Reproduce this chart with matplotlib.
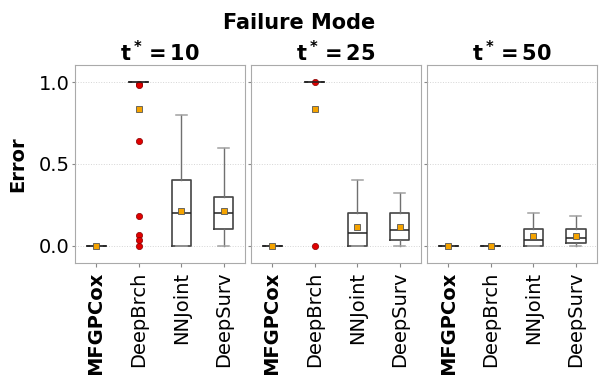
import matplotlib
matplotlib.use("Agg")
import matplotlib.pyplot as plt

methods = ["MFGPCox", "DeepBrch", "NNJoint", "DeepSurv"]
panel_titles = [r"$\mathbf{t^*=10}$", r"$\mathbf{t^*=25}$", r"$\mathbf{t^*=50}$"]

# per panel, per method: whislo, q1, med, q3, whishi, mean
t10_whislo = [0.0, 1.0, 0.0, 0.0]
t10_q1 = [0.0, 1.0, 0.0, 0.10]
t10_med = [0.0, 1.0, 0.20, 0.20]
t10_q3 = [0.0, 1.0, 0.40, 0.30]
t10_whishi = [0.0, 1.0, 0.80, 0.60]
t10_mean = [0.0, 0.835, 0.21, 0.21]
t10_fliers = [[], [0.99, 0.98, 0.64, 0.18, 0.065, 0.035, 0.0], [], []]

t25_whislo = [0.0, 1.0, 0.0, 0.0]
t25_q1 = [0.0, 1.0, 0.0, 0.037]
t25_med = [0.0, 1.0, 0.077, 0.096]
t25_q3 = [0.0, 1.0, 0.20, 0.20]
t25_whishi = [0.0, 1.0, 0.40, 0.32]
t25_mean = [0.0, 0.835, 0.114, 0.114]
t25_fliers = [[], [1.0, 0.0], [], []]

t50_whislo = [0.0, 0.0, 0.0, 0.0]
t50_q1 = [0.0, 0.0, 0.0, 0.016]
t50_med = [0.0, 0.0, 0.037, 0.047]
t50_q3 = [0.0, 0.0, 0.10, 0.10]
t50_whishi = [0.0, 0.0, 0.20, 0.18]
t50_mean = [0.0, 0.0, 0.057, 0.057]
t50_fliers = [[], [], [], []]

panels = [
    (t10_whislo, t10_q1, t10_med, t10_q3, t10_whishi, t10_mean, t10_fliers),
    (t25_whislo, t25_q1, t25_med, t25_q3, t25_whishi, t25_mean, t25_fliers),
    (t50_whislo, t50_q1, t50_med, t50_q3, t50_whishi, t50_mean, t50_fliers),
]

fig, axes = plt.subplots(1, 3, figsize=(5.99, 3.75), dpi=100, sharey=True)
fig.subplots_adjust(left=0.125, right=0.997, top=0.827, bottom=0.299, wspace=0.035)

for ax, title, (wl, q1, med, q3, wh, mn, fl) in zip(axes, panel_titles, panels):
    stats = []
    for i, m in enumerate(methods):
        stats.append(dict(label=m, whislo=wl[i], q1=q1[i], med=med[i], q3=q3[i],
                          whishi=wh[i], mean=mn[i], fliers=fl[i]))
    ax.bxp(stats, positions=range(1, 5), widths=0.45, showmeans=True,
           showfliers=True, patch_artist=False,
           boxprops=dict(color="#444444", linewidth=1.2),
           medianprops=dict(color="#222222", linewidth=1.1),
           whiskerprops=dict(color="#707070", linewidth=1.0),
           capprops=dict(color="#a0a0a0", linewidth=1.1),
           capwidths=0.26,
           meanprops=dict(marker="s", markerfacecolor="#f5a300",
                          markeredgecolor="#555555", markersize=5,
                          markeredgewidth=0.6),
           flierprops=dict(marker="o", markerfacecolor="#e00000",
                           markeredgecolor="#880000", markersize=4.5,
                           markeredgewidth=0.5))
    ax.set_xlim(0.5, 4.5)
    ax.set_ylim(-0.105, 1.105)
    ax.set_yticks([0.0, 0.5, 1.0])
    ax.yaxis.grid(True, linestyle=":", color="#d5d5d5", linewidth=0.7)
    ax.set_axisbelow(True)
    ax.set_xticks(range(1, 5))
    ax.set_xticklabels(methods, rotation=90, fontsize=14)
    ax.get_xticklabels()[0].set_fontweight("bold")
    ax.tick_params(axis="y", labelsize=14, color="#888888", length=2, pad=2)
    ax.tick_params(axis="x", color="#888888", length=3)
    for sp in ax.spines.values():
        sp.set_color("#aaaaaa")
    ax.set_title(title, fontsize=15, fontweight="bold", pad=3)

axes[0].set_ylabel("Error", fontsize=14, fontweight="bold", labelpad=8)
fig.suptitle("Failure Mode", fontsize=15, fontweight="bold", y=0.965)
fig.savefig("out.png", dpi=100)
